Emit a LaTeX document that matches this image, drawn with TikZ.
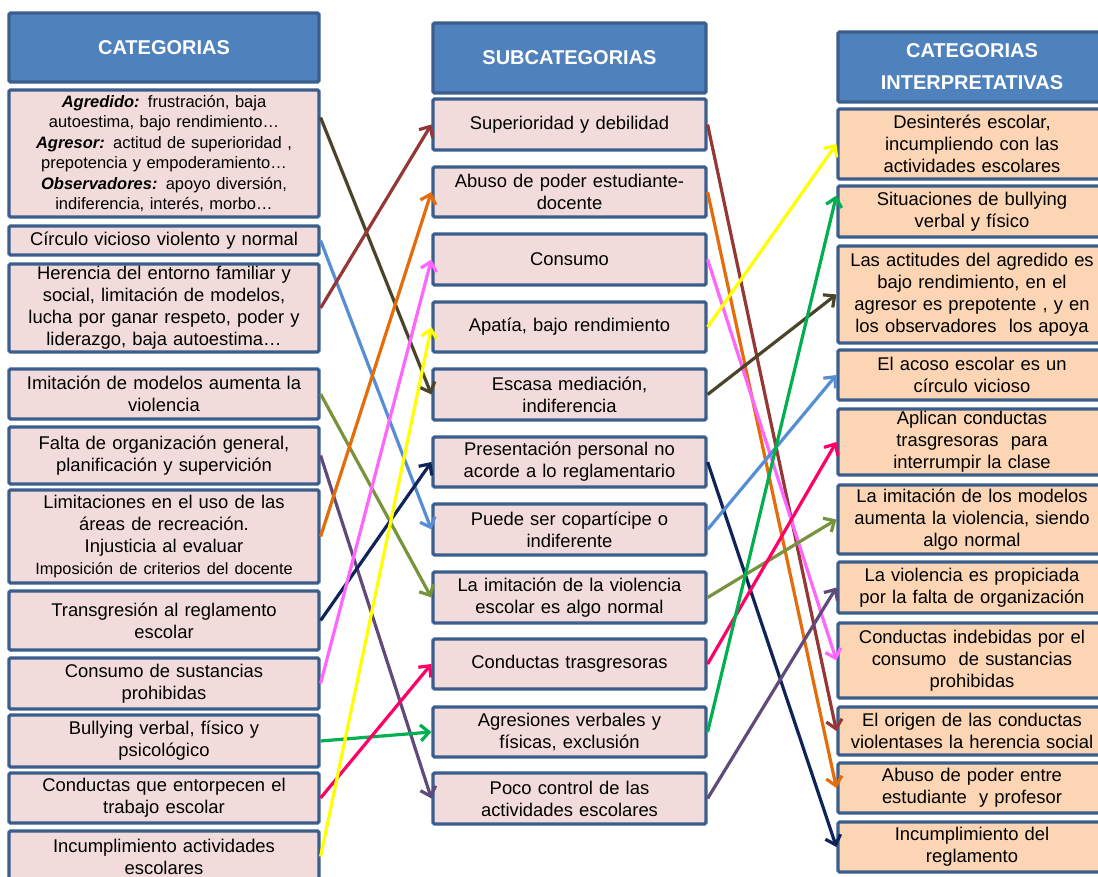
\documentclass[tikz,border=0pt]{standalone}
\usepackage{fontspec}
\setmainfont{Liberation Sans}
\usetikzlibrary{arrows.meta,calc}

\definecolor{hdrfill}{HTML}{4F81BD}
\definecolor{boxline}{HTML}{3B5E8C}
\definecolor{pinkfill}{HTML}{F2DCDB}
\definecolor{peachfill}{HTML}{FCD5B5}
\definecolor{cOlive}{HTML}{4A4529}
\definecolor{cBlue}{HTML}{558ED5}
\definecolor{cRed}{HTML}{953735}
\definecolor{cLeaf}{HTML}{77933C}
\definecolor{cPurple}{HTML}{604A7B}
\definecolor{cOrange}{HTML}{E46C0A}
\definecolor{cNavy}{HTML}{0F2459}
\definecolor{cPink}{HTML}{FF66FF}
\definecolor{cGreen}{HTML}{00B050}
\definecolor{cCrimson}{HTML}{FF0066}
\definecolor{cYellow}{HTML}{FFFF00}

% box placed by its corners: name, style, x1, y1, x2, y2, text
\newcommand\putbox[7]{%
  \pgfmathsetmacro\bxw{#5-#3}%
  \pgfmathsetmacro\bxh{#6-#4}%
  \pgfmathsetmacro\bxt{#5-#3-8}%
  \node[#2, minimum width=\bxw pt, minimum height=\bxh pt, text width=\bxt pt]
    (#1) at ({(#3+#5)/2},{(#4+#6)/2}) {#7};}

\tikzset{
  basebox/.style={draw=boxline, line width=3.2pt, rounded corners=1.5pt,
    inner xsep=2pt, inner ysep=0pt, align=center,
    font=\fontsize{18.4}{22}\selectfont, text=black},
  hdrbox/.style={basebox, fill=hdrfill, text=white,
    font=\fontsize{20}{32}\selectfont\bfseries},
  catbox/.style={basebox, fill=pinkfill},
  subbox/.style={basebox, fill=pinkfill},
  intbox/.style={basebox, fill=peachfill},
  link/.style={line width=3.2pt, draw=#1,
    -{Straight Barb[length=8.5pt,width=16pt]}},
}

\begin{document}
\begin{tikzpicture}[x=1pt,y=-1pt]
\fill[white] (0,0) rectangle (1098,877);
\useasboundingbox (0,0) rectangle (1098,877);

% column headers
\putbox{H1}{hdrbox}{9}{13}{319}{82}{CATEGORIAS}
\putbox{H2}{hdrbox}{433}{23}{706}{93}{SUBCATEGORIAS}
\putbox{H3}{hdrbox}{838}{32}{1106}{102}{CATEGORIAS\\INTERPRETATIVAS}

% categories
\putbox{L1}{catbox,font=\fontsize{16.5}{20.5}\selectfont}{9}{90}{319}{217}{%
  \textbf{\textit{Agredido:}} frustración, baja\\autoestima, bajo rendimiento…\\
  \textbf{\textit{Agresor:}} actitud de superioridad ,\\prepotencia y empoderamiento…\\
  \textbf{\textit{Observadores:}} apoyo diversión,\\indiferencia, interés, morbo…}
\putbox{L2}{catbox}{9}{226}{319}{255}{Círculo vicioso violento y normal}
\putbox{L3}{catbox}{9}{264}{319}{352}{Herencia del entorno familiar y\\social, limitación de modelos,\\lucha por ganar respeto, poder y\\liderazgo, baja autoestima…}
\putbox{L4}{catbox}{9}{369}{319}{419}{Imitación de modelos aumenta la\\violencia}
\putbox{L5}{catbox}{9}{427}{319}{484}{Falta de organización general,\\planificación y supervición}
\putbox{L6}{catbox}{9}{490}{319}{583}{Limitaciones en el uso de las\\áreas de recreación.\\Injusticia al evaluar\\{\fontsize{16.3}{20}\selectfont Imposición de criterios del docente}}
\putbox{L7}{catbox}{9}{591}{319}{650}{Transgresión al reglamento\\escolar}
\putbox{L8}{catbox}{9}{658}{319}{709}{Consumo de sustancias\\prohibidas}
\putbox{L9}{catbox}{9}{715}{319}{767}{Bullying verbal, físico y\\psicológico}
\putbox{L10}{catbox}{9}{773}{319}{823}{Conductas que entorpecen el\\trabajo escolar}
\putbox{L11}{catbox}{9}{831}{319}{882}{Incumplimiento actividades\\escolares}

% subcategories
\putbox{M1}{subbox}{433}{99}{706}{150}{Superioridad y debilidad}
\putbox{M2}{subbox}{433}{167}{706}{217}{Abuso de poder estudiante-\\docente}
\putbox{M3}{subbox}{433}{234}{706}{285}{Consumo}
\putbox{M4}{subbox}{433}{302}{706}{352}{Apatía, bajo rendimiento}
\putbox{M5}{subbox}{433}{369}{706}{420}{Escasa mediación,\\indiferencia}
\putbox{M6}{subbox}{433}{437}{706}{487}{Presentación personal no\\acorde a lo reglamentario}
\putbox{M7}{subbox}{433}{504}{706}{555}{Puede ser copartícipe o\\indiferente}
\putbox{M8}{subbox}{433}{572}{706}{623}{La imitación de la violencia\\escolar es algo normal}
\putbox{M9}{subbox}{433}{639}{706}{689}{Conductas trasgresoras}
\putbox{M10}{subbox}{433}{707}{706}{757}{Agresiones verbales y\\físicas, exclusión}
\putbox{M11}{subbox}{433}{773}{706}{824}{Poco control de las\\actividades escolares}

% interpretive categories
\putbox{R1}{intbox}{838}{109}{1106}{179}{Desinterés escolar,\\incumpliendo con las\\actividades escolares}
\putbox{R2}{intbox}{838}{186}{1106}{237}{Situaciones de bullying\\verbal y físico}
\putbox{R3}{intbox}{838}{246}{1106}{343}{Las actitudes del agredido es\\bajo rendimiento, en el\\agresor es prepotente , y en\\los observadores\ \ los apoya}
\putbox{R4}{intbox}{838}{350}{1106}{400}{El acoso escolar es un\\círculo vicioso}
\putbox{R5}{intbox}{838}{409}{1106}{475}{Aplican conductas\\trasgresoras\ \ para\\interrumpir la clase}
\putbox{R6}{intbox}{838}{485}{1106}{554}{La imitación de los modelos\\aumenta la violencia, siendo\\algo normal}
\putbox{R7}{intbox}{838}{562}{1106}{613}{La violencia es propiciada\\por la falta de organización}
\putbox{R8}{intbox}{838}{623}{1106}{698}{Conductas indebidas por el\\consumo\ \ de sustancias\\prohibidas}
\putbox{R9}{intbox}{838}{707}{1106}{755}{El origen de las conductas\\violentases la herencia social}
\putbox{R10}{intbox}{838}{763}{1106}{813}{Abuso de poder entre\\estudiante\ \ y profesor}
\putbox{R11}{intbox}{838}{822}{1106}{872}{Incumplimiento del\\reglamento}

% categories -> subcategories
\draw[link=cOlive]   ([yshift=36pt]L1.east) -- (M5.west);
\draw[link=cBlue]    (L2.east) -- (M7.west);
\draw[link=cRed]     (L3.east) -- (M1.west);
\draw[link=cLeaf]    (L4.east) -- (M8.west);
\draw[link=cPurple]  (L5.east) -- (M11.west);
\draw[link=cOrange]  (L6.east) -- (M2.west);
\draw[link=cNavy]    (L7.east) -- (M6.west);
\draw[link=cPink]    (L8.east) -- (M3.west);
\draw[link=cGreen]   (L9.east) -- (M10.west);
\draw[link=cCrimson] (L10.east) -- (M9.west);
\draw[link=cYellow]  (L11.east) -- (M4.west);

% subcategories -> interpretive categories
\draw[link=cRed]     (M1.east) -- (R9.west);
\draw[link=cOrange]  (M2.east) -- (R10.west);
\draw[link=cPink]    (M3.east) -- (R8.west);
\draw[link=cYellow]  (M4.east) -- (R1.west);
\draw[link=cOlive]   (M5.east) -- (R3.west);
\draw[link=cNavy]    (M6.east) -- (R11.west);
\draw[link=cBlue]    (M7.east) -- (R4.west);
\draw[link=cLeaf]    (M8.east) -- (R6.west);
\draw[link=cCrimson] (M9.east) -- (R5.west);
\draw[link=cGreen]   (M10.east) -- ([yshift=16pt]R2.west);
\draw[link=cPurple]  (M11.east) -- (R7.west);
\end{tikzpicture}
\end{document}
